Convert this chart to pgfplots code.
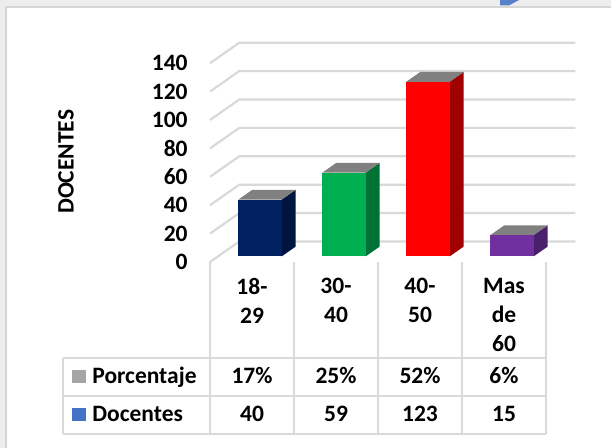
\documentclass[border=0pt]{standalone}
\usepackage{fontspec}
\setmainfont{Carlito}
\usepackage{pgfplots}
\pgfplotsset{compat=1.18}

\definecolor{gridc}{HTML}{D9D9D9}
\definecolor{topc}{HTML}{808080}
\definecolor{navyf}{HTML}{002060}
\definecolor{navys}{HTML}{001440}
\definecolor{greenf}{HTML}{00B050}
\definecolor{greens}{HTML}{007235}
\definecolor{redf}{HTML}{FF0000}
\definecolor{reds}{HTML}{A00000}
\definecolor{purpf}{HTML}{7030A0}
\definecolor{purps}{HTML}{4A1F6B}
\definecolor{porcc}{HTML}{A5A5A5}
\definecolor{docc}{HTML}{4472C4}
\definecolor{bgc}{HTML}{EDEDED}
\definecolor{edgec}{HTML}{D6D6D6}

\newcommand{\tfont}{\fontsize{11.75}{14.5}\selectfont\bfseries}

% #1 left x, #2 right x, #3 value, #4 front colour, #5 side colour
\newcommand{\threedbar}[5]{%
  \addplot3[fill=#5, draw=none] coordinates {(#2,0.27,0) (#2,0.75,0) (#2,0.75,#3) (#2,0.27,#3)};
  \addplot3[fill=topc, draw=none] coordinates {(#1,0.27,#3) (#2,0.27,#3) (#2,0.75,#3) (#1,0.75,#3)};
  \addplot3[fill=#4, draw=none] coordinates {(#1,0.27,0) (#2,0.27,0) (#2,0.27,#3) (#1,0.27,#3)};
}

\begin{document}
\begin{tikzpicture}
% background (pixel coordinates)
\begin{scope}[x=0.5pt,y=-0.5pt]
  \useasboundingbox (0,0) rectangle (611,448);
  \fill[bgc] (0,0) rectangle (611,448);
  \fill[white] (6,7) rectangle (611,448);
  \draw[edgec, line width=1pt] (6,448) -- (6,7) -- (611,7);
  \fill[docc!90!white] (500,0) -- (519,0) -- (509,5.5) -- (500,5.5) -- cycle;
\end{scope}

% 3D bars and walls
\begin{axis}[
  at={(126pt,-131pt)}, anchor=origin,
  x={(42pt,0pt)}, y={(14.65pt,10.25pt)}, z={(0pt,0.71pt)},
  xmin=-0.5, xmax=3.5, ymin=0, ymax=1, zmin=0, zmax=140,
  hide axis, clip=false,
]
\pgfplotsinvokeforeach{0,20,...,140}{
  \draw[gridc, line width=1.1pt] (axis cs:-0.5,0,#1) -- (axis cs:-0.5,1,#1) -- (axis cs:3.5,1,#1);
}
\threedbar{-0.258}{0.258}{40}{navyf}{navys}
\threedbar{0.742}{1.258}{59}{greenf}{greens}
\threedbar{1.742}{2.258}{123}{redf}{reds}
\threedbar{2.742}{3.258}{15}{purpf}{purps}
\end{axis}

% 2D axis for tick labels
\begin{axis}[
  at={(105pt,-131pt)}, anchor=south west,
  scale only axis, width=168pt, height=99.4pt,
  xmin=-0.5, xmax=3.5, ymin=0, ymax=140,
  axis line style={draw=none}, major tick length=0pt,
  ytick={0,20,...,140}, xtick={0,1,2,3},
  xticklabels={{18-\\29},{30-\\40},{40-\\50},{Mas\\de\\60}},
  /pgf/number format/assume math mode=true,
  tick label style={font=\tfont},
  yticklabel style={anchor=east, inner sep=0pt, xshift=-11pt},
  xticklabel style={anchor=north, inner sep=0pt, align=center, yshift=-8pt},
  ylabel={DOCENTES},
  ylabel style={font=\tfont, at={(axis description cs:-0.4286,0.5045)}, anchor=center},
]
\end{axis}

% data table
\begin{scope}[x=0.5pt,y=-0.5pt]
  \draw[gridc, line width=1pt] (63,358) -- (546,358);
  \draw[gridc, line width=1pt] (63,396) -- (546,396);
  \draw[gridc, line width=1pt] (63,434) -- (546,434);
  \draw[gridc, line width=1pt] (63,358) -- (63,434);
  \foreach \xx in {210,294,378,462,546}{
    \draw[gridc, line width=1pt] (\xx,262) -- (\xx,434);
  }
  \fill[porcc] (72,370) rectangle (85.5,383.5);
  \fill[docc] (72,408) rectangle (85.5,421.5);
  \node[anchor=base west, inner sep=0pt, font=\tfont] at (92,384) {Porcentaje};
  \node[anchor=base west, inner sep=0pt, font=\tfont] at (92,422) {Docentes};
  \node[anchor=base, inner sep=0pt, font=\tfont] at (252,384) {17\%};
  \node[anchor=base, inner sep=0pt, font=\tfont] at (336,384) {25\%};
  \node[anchor=base, inner sep=0pt, font=\tfont] at (420,384) {52\%};
  \node[anchor=base, inner sep=0pt, font=\tfont] at (504,384) {6\%};
  \node[anchor=base, inner sep=0pt, font=\tfont] at (252,422) {40};
  \node[anchor=base, inner sep=0pt, font=\tfont] at (336,422) {59};
  \node[anchor=base, inner sep=0pt, font=\tfont] at (420,422) {123};
  \node[anchor=base, inner sep=0pt, font=\tfont] at (504,422) {15};
\end{scope}
\end{tikzpicture}
\end{document}
